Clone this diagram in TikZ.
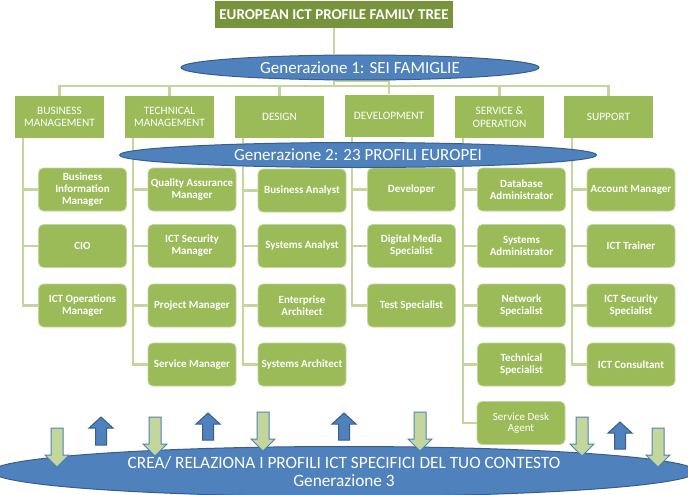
\documentclass[tikz,border=0pt]{standalone}
\usepackage{fontspec}
\setmainfont{Carlito}
\usetikzlibrary{shapes.geometric,backgrounds}
\definecolor{titlegreen}{HTML}{77933C}
\definecolor{boxgreen}{HTML}{9BBB59}
\definecolor{linegreen}{HTML}{C3D69B}
\definecolor{ellblue}{HTML}{4F81BD}
\definecolor{ellborder}{HTML}{385D8A}
\definecolor{arrgreen}{HTML}{C3D69B}
\tikzset{
  titlebox/.style={fill=titlegreen, text=white, font=\bfseries\fontsize{15}{17}\selectfont, minimum width=238, minimum height=27, inner sep=0},
  genell/.style={ellipse, fill=ellblue, draw=ellborder, line width=1pt, text=white, inner sep=0, font=\fontsize{17}{19}\selectfont},
  fambox/.style={fill=boxgreen, text=white, font=\fontsize{11.3}{12.5}\selectfont, minimum width=89, minimum height=42, align=center, inner sep=0},
  profbox/.style={fill=boxgreen, draw=boxgreen!60!white, line width=0.8pt, rounded corners=5, text=white, font=\bfseries\fontsize{11}{12}\selectfont, minimum width=88, minimum height=43, align=center, inner sep=0},
  conn/.style={draw=linegreen, line width=2.2pt},
  darrstyle/.style={fill=arrgreen, draw=ellblue, line width=1pt, line join=miter},
  uarrstyle/.style={fill=ellblue, draw=ellborder, line width=1pt, line join=miter},
  pics/darr/.style={code={\path[darrstyle] (-6,0) -- (6,0) -- (6,#1-12) -- (12,#1-12) -- (0,#1) -- (-12,#1-12) -- (-6,#1-12) -- cycle;}},
  pics/uarr/.style={code={\path[uarrstyle] (0,0) -- (12,11) -- (5.5,11) -- (5.5,#1) -- (-5.5,#1) -- (-5.5,11) -- (-12,11) -- cycle;}}
}
\begin{document}
\begin{tikzpicture}[x=1pt,y=-1pt]
\useasboundingbox (0,0) rectangle (688,495);
\clip (0,0) rectangle (688,495);
% title and generation 1
\node[titlebox] (title) at (334,14.5) {EUROPEAN ICT PROFILE FAMILY TREE};
\node[genell, minimum width=358, minimum height=25] (g1) at (360,67.5) {Generazione 1: SEI FAMIGLIE};
% families
\node[fambox] (f1) at (59.5,117) {BUSINESS\\MANAGEMENT};
\node[fambox] (f2) at (169.5,117) {TECHNICAL\\MANAGEMENT};
\node[fambox] (f3) at (279.5,117) {DESIGN};
\node[fambox] (f4) at (389,115.5) {DEVELOPMENT};
\node[fambox] (f5) at (499.5,117) {SERVICE \&\\OPERATION};
\node[fambox] (f6) at (608.5,117) {SUPPORT};
% profiles column 1
\node[profbox] (bim) at (82.5,189.5) {Business\\Information\\Manager};
\node[profbox] (cio) at (82.5,246) {CIO};
\node[profbox] (iom) at (82.5,305.5) {ICT Operations\\Manager};
% column 2
\node[profbox] (qam) at (192,189.5) {Quality Assurance\\Manager};
\node[profbox] (ism) at (192,246) {ICT Security\\Manager};
\node[profbox] (pm) at (192,305.5) {Project Manager};
\node[profbox] (sm) at (192,364.5) {Service Manager};
% column 3
\node[profbox] (ba) at (302,190.5) {Business Analyst};
\node[profbox] (sa) at (302,246) {Systems Analyst};
\node[profbox] (ea) at (302,305.5) {Enterprise\\Architect};
\node[profbox] (sar) at (302,364.5) {Systems Architect};
% column 4
\node[profbox] (dev) at (411.5,189.5) {Developer};
\node[profbox] (dms) at (411.5,246) {Digital Media\\Specialist};
\node[profbox] (ts) at (411.5,305.5) {Test Specialist};
% column 5
\node[profbox] (dba) at (521.5,189.5) {Database\\Administrator};
\node[profbox] (sad) at (521.5,246) {Systems\\Administrator};
\node[profbox] (ns) at (521.5,305.5) {Network\\Specialist};
\node[profbox] (tsp) at (521.5,364.5) {Technical\\Specialist};
\node[profbox, font=\mdseries\fontsize{11}{11.5}\selectfont] (sda) at (521,423) {Service Desk\\Agent};
% column 6
\node[profbox] (am) at (631,189.5) {Account Manager};
\node[profbox] (ict) at (631,246) {ICT Trainer};
\node[profbox] (iss) at (631,305.5) {ICT Security\\Specialist};
\node[profbox] (ic) at (631,364.5) {ICT Consultant};
% generation 2 ellipse
\node[genell, minimum width=477, minimum height=25] (g2) at (358,155) {Generazione 2: 23 PROFILI EUROPEI};
% connectors
\begin{scope}[on background layer]
\fill[white] (0,0) rectangle (688,495);
\coordinate (hub) at (334,86);
\coordinate (hubd) at (334,81);
\draw[conn] (title.south) -- (g1.north -| title.south);
\draw[conn] (g1.south -| title.south) -- (hub);
\draw[conn] (hubd) -| (f4.north);
\draw[conn] (f1.north) |- (hub) -| (f6.north);
\foreach \f in {f2,f3,f5} \draw[conn] (\f.north) -- (\f.north |- hub);
\coordinate (t1) at ([xshift=8pt]f1.south west);
\coordinate (t2) at ([xshift=8pt]f2.south west);
\coordinate (t3) at ([xshift=8pt]f3.south west);
\coordinate (t4) at ([xshift=8pt]f4.south west);
\coordinate (t5) at ([xshift=8pt]f5.south west);
\coordinate (t6) at ([xshift=8pt]f6.south west);
\draw[conn] (t1) |- (iom.west);
\foreach \p in {bim,cio} \draw[conn] (\p.west) -- (\p.west -| t1);
\draw[conn] (t2) |- (sm.west);
\foreach \p in {qam,ism,pm} \draw[conn] (\p.west) -- (\p.west -| t2);
\draw[conn] (t3) |- (sar.west);
\foreach \p in {ba,sa,ea} \draw[conn] (\p.west) -- (\p.west -| t3);
\draw[conn] (t4) |- (ts.west);
\foreach \p in {dev,dms} \draw[conn] (\p.west) -- (\p.west -| t4);
\draw[conn] (t5) |- (sda.west);
\foreach \p in {dba,sad,ns,tsp} \draw[conn] (\p.west) -- (\p.west -| t5);
\draw[conn] (t6) |- (ic.west);
\foreach \p in {am,ict,iss} \draw[conn] (\p.west) -- (\p.west -| t6);
\end{scope}
% generation 3
\node[genell, minimum width=704, minimum height=50, align=center, font=\fontsize{17.3}{18}\selectfont] (g3) at (344,471.5) {CREA/ RELAZIONA I PROFILI ICT SPECIFICI DEL TUO CONTESTO\\Generazione 3};
% arrows
\pic at (57,428) {darr=39};
\pic at (101,417) {uarr=28};
\pic at (155,417) {darr=39};
\pic at (208,413) {uarr=27};
\pic at (263,412) {darr=39};
\pic at (344,413) {uarr=27};
\pic at (420,412) {darr=39};
\pic at (582,417) {darr=39};
\pic at (620,422) {uarr=27};
\pic at (658,428) {darr=39};
\end{tikzpicture}
\end{document}
